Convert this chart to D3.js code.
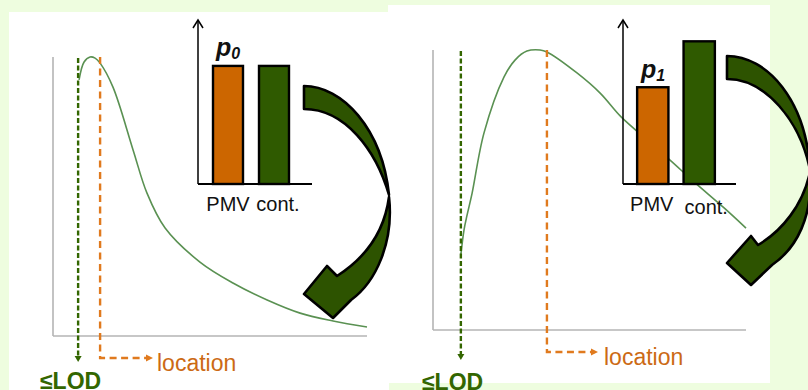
<!DOCTYPE html>
<html><head><meta charset="utf-8">
<script src="https://cdn.jsdelivr.net/npm/d3@7"></script>
<style>
html,body{margin:0;padding:0;background:#eefddf;}
svg{display:block;font-family:"Liberation Sans",Arial,sans-serif;}
</style></head>
<body>
<svg id="c" width="808" height="390"></svg>
<script>
// ---------- data ----------
const categories = ["PMV", "cont."];
const leftBarValues = [0.72, 0.72];
const rightBarValues = [0.59, 0.87];
const barTitles = ["p", "p"];
const barSubs = ["0", "1"];

const leftCurveX = [8.3, 9.9, 11.8, 13.4, 15.0, 19.1, 25.5, 29.9, 35.7, 46.8, 57.3, 68.2, 78.7, 89.2, 100];
const leftCurveY = [91.8, 98.2, 100, 99.6, 97.8, 89.2, 66.7, 51.3, 38.7, 26.5, 19.0, 12.9, 8.2, 5.4, 3.2];
const rightCurveX = [8.9, 9.9, 10.9, 12.5, 16.3, 22.7, 26.2, 30.0, 34.2, 36.4, 46.0, 53.4, 60.1, 68.1, 76.0, 83.4, 93.0, 100];
const rightCurveY = [26.8, 35.7, 41.1, 48.9, 70.4, 90.4, 96.4, 99.6, 100, 99.3, 91.8, 84.6, 76.1, 68.2, 60.4, 52.9, 43.6, 36.4];
const lodValues = [8.0, 8.9];
const locationValues = [15.0, 36.4];
const lodLabel = "≤LOD";
const locationLabel = "location";
const topText = "Data suggested by the biggest location shift";

// ---------- drawing ----------
const svg = d3.select("#c");
const ORANGE = "#cc6600", DKGREEN = "#2f5a00", DASHGREEN = "#336600", DASHORANGE = "#e07a1e", CURVE = "#5a9152";

// clipped title text at very top (only descenders visible)
svg.append("text").attr("x", 22).attr("y", -5).attr("font-size", 22).attr("fill", "#333")
  .attr("font-family", "DejaVu Sans").text(topText);

// white panels
svg.append("rect").attr("x", 9).attr("y", 12).attr("width", 380).attr("height", 380).attr("fill", "#fff");
svg.append("rect").attr("x", 388).attr("y", 5).attr("width", 382).attr("height", 378).attr("fill", "#fff");

const panels = [
  { x0: 53, x1: 367, yBase: 336, yTop: 57, axTop: 57, cx: leftCurveX, cy: leftCurveY, lod: lodValues[0], loc: locationValues[0],
    lodEnd: 362, locEnd: 358, locArrowEnd: 153, lodTextX: 40, lodTextY: 389, locTextX: 157, locTextY: 371,
    inset: { ax: 198, axTop: 20, base: 184, axRight: 312, range: [197, 305], pad: 0.348, vals: leftBarValues,
             title: 0, titleX: 216, titleY: 56, labY: [211, 211], labDx: [0, 4] } },
  { x0: 433, x1: 746, yBase: 330, yTop: 50, axTop: 50, cx: rightCurveX, cy: rightCurveY, lod: lodValues[1], loc: locationValues[1],
    lodEnd: 360, locEnd: 352, locArrowEnd: 598, lodTextX: 422, lodTextY: 390, locTextX: 604, locTextY: 365,
    inset: { ax: 623, axTop: 20, base: 184, axRight: 736, range: [622, 730], pad: 0.326, vals: rightBarValues,
             title: 1, titleX: 641, titleY: 78, labY: [211, 214], labDx: [-1, 7] } }
];

panels.forEach(p => {
  const g = svg.append("g");
  const x = d3.scaleLinear().domain([0, 100]).range([p.x0, p.x1]);
  const y = d3.scaleLinear().domain([0, 100]).range([p.yBase, p.yTop]);

  // axes (grey)
  g.append("line").attr("x1", x(0)).attr("x2", x(0)).attr("y1", p.axTop).attr("y2", p.yBase)
    .attr("stroke", "#b4b4b4").attr("stroke-width", 1.6);
  g.append("line").attr("x1", x(0)).attr("x2", x(100)).attr("y1", p.yBase).attr("y2", p.yBase)
    .attr("stroke", "#b4b4b4").attr("stroke-width", 1.6);

  // density curve
  const pts = p.cx.map((v, i) => [v, p.cy[i]]);
  g.append("path").datum(pts)
    .attr("d", d3.line().x(d => x(d[0])).y(d => y(d[1])).curve(d3.curveCatmullRom.alpha(0.5)))
    .attr("fill", "none").attr("stroke", CURVE).attr("stroke-width", 1.6);

  // LOD dashed line
  const lx = x(p.lod);
  g.append("line").attr("x1", lx).attr("x2", lx).attr("y1", y(100) + 1).attr("y2", p.lodEnd - 5)
    .attr("stroke", DASHGREEN).attr("stroke-width", 2.4).attr("stroke-dasharray", "5,2.5");
  g.append("path").attr("d", `M${lx - 3.5},${p.lodEnd - 6}L${lx + 3.5},${p.lodEnd - 6}L${lx},${p.lodEnd}Z`).attr("fill", DASHGREEN);

  // location dashed line
  const ox = x(p.loc);
  g.append("path").attr("d", `M${ox},${y(100)}V${p.locEnd}H${p.locArrowEnd - 6}`)
    .attr("fill", "none").attr("stroke", DASHORANGE).attr("stroke-width", 2.4).attr("stroke-dasharray", "7,4.5");
  g.append("path").attr("d", `M${p.locArrowEnd - 7},${p.locEnd - 3.5}L${p.locArrowEnd - 7},${p.locEnd + 3.5}L${p.locArrowEnd},${p.locEnd}Z`).attr("fill", DASHORANGE);

  g.append("text").attr("x", p.lodTextX).attr("y", p.lodTextY).attr("font-size", 23).attr("font-weight", "bold")
    .attr("fill", DASHGREEN).text(lodLabel);
  g.append("text").attr("x", p.locTextX).attr("y", p.locTextY).attr("font-size", 23)
    .attr("fill", "#cc6a14").text(locationLabel);

  // inset bar chart
  const ins = p.inset;
  const bx = d3.scaleBand().domain(categories).range(ins.range).padding(ins.pad);
  const by = d3.scaleLinear().domain([0, 1]).range([ins.base, ins.axTop]);
  g.selectAll("rect.bar").data(categories).enter().append("rect")
    .attr("x", d => bx(d)).attr("width", bx.bandwidth())
    .attr("y", (d, i) => by(ins.vals[i])).attr("height", (d, i) => ins.base - by(ins.vals[i]))
    .attr("fill", (d, i) => i === 0 ? ORANGE : DKGREEN).attr("stroke", "#000").attr("stroke-width", 2.4);
  g.append("line").attr("x1", ins.ax).attr("x2", ins.ax).attr("y1", ins.axTop).attr("y2", ins.base)
    .attr("stroke", "#000").attr("stroke-width", 1.5);
  g.append("path").attr("d", `M${ins.ax - 5},${ins.axTop + 8}L${ins.ax},${ins.axTop}L${ins.ax + 5},${ins.axTop + 8}`)
    .attr("fill", "none").attr("stroke", "#000").attr("stroke-width", 1.5);
  g.append("line").attr("x1", ins.ax).attr("x2", ins.axRight).attr("y1", ins.base).attr("y2", ins.base)
    .attr("stroke", "#000").attr("stroke-width", 2);
  g.selectAll("text.lab").data(categories).enter().append("text")
    .attr("x", (d, i) => bx(d) + bx.bandwidth() / 2 + ins.labDx[i]).attr("y", (d, i) => ins.labY[i])
    .attr("text-anchor", "middle").attr("font-size", 20).attr("fill", "#111").text(d => d);
  const t = g.append("text").attr("x", ins.titleX).attr("y", ins.titleY).attr("font-size", 25)
    .attr("font-weight", "bold").attr("font-style", "italic").attr("fill", "#111");
  t.append("tspan").text(barTitles[ins.title]);
  t.append("tspan").attr("font-size", 16).attr("dy", 3).text(barSubs[ins.title]);
});

// big curved arrows (decorative shapes)
const arrowStyle = s => s.attr("fill", "#2d5300").attr("stroke", "#000").attr("stroke-width", 2.6).attr("stroke-linejoin", "round");
// left
arrowStyle(svg.append("path").attr("d",
  "M304,86 C342,86 382,128 389,195 C376,150 345,109 304,109 Z"));
arrowStyle(svg.append("path").attr("d",
  "M389,197 C394,242 376,282 351,300 L333,318 L304,294 L327,266 L337,276 C362,260 384,235 389,197 Z"));
// right
arrowStyle(svg.append("path").attr("d",
  "M727,56 C767,56 806,100 810,170 C800,120 765,79 727,79 Z"));
arrowStyle(svg.append("path").attr("d",
  "M810,172 C813,216 797,248 772,265 L751,285 L727,263 L751,236 L758,245 C782,231 803,205 810,172 Z"));
</script>
</body></html>
